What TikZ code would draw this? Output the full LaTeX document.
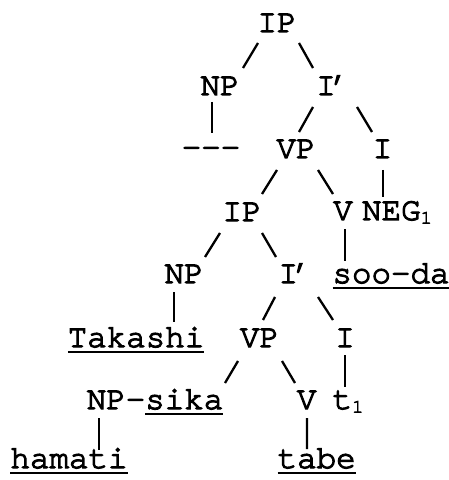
\documentclass[tikz,border=0pt]{standalone}
\usepackage{fontspec}
\newfontfamily\tf{TeX Gyre Cursor}[FakeBold=3.6]
\usetikzlibrary{calc}
\newcommand\myul[1]{\setbox0\hbox{#1}\rlap{\rule[-2.9pt]{\wd0}{1.1pt}}\box0}
\newcommand\subone{{\fontsize{9.5}{9.5}\selectfont\raisebox{-1.8pt}{1}}}
\newcommand\apos{\rlap{\kern-3.5pt’}}
\newcommand\treeline[4]{\draw ($(#1.base)+#2$) -- ($(#3.base)+#4$);}
\begin{document}
\begin{tikzpicture}[x=0.5pt,y=-0.5pt,
  lbl/.style={anchor=base,inner sep=0pt,font=\tf\fontsize{16.25}{18}\selectfont},
  line width=1.15pt]
\useasboundingbox (0,0) rectangle (448,480);
% nodes
\node[lbl] (ip1) at (277,32) {IP};
\node[lbl] (np1) at (220,95) {NP};
\node[lbl] (ib1) at (326,95) {I\apos};
\node[lbl] (dash) at (211,157) {-{}-{}-};
\node[lbl] (vp1) at (296,158) {VP};
\node[lbl] (i1) at (382.5,158) {I};
\node[lbl] (ip2) at (242,221) {IP};
\node[lbl] (v1) at (343,220) {V};
\node[lbl] (neg) at (397,220) {NEG\subone};
\node[lbl] (np2) at (184,283) {NP};
\node[lbl] (ib2) at (288.3,283) {I\apos};
\node[lbl] (soo) at (391,283) {\myul{soo-da}};
\node[lbl] (tak) at (136,347) {\myul{Takashi}};
\node[lbl] (vp2) at (259.5,347) {VP};
\node[lbl] (i2) at (345,347) {I};
\node[lbl] (npsika) at (155,409) {NP-\myul{sika}};
\node[lbl] (v2) at (306.7,409) {V};
\node[lbl] (t1) at (348,409) {t\subone};
\node[lbl] (ham) at (69,468) {\myul{hamati}};
\node[lbl] (tabe) at (316.7,468) {\myul{tabe}};
% connectors
\treeline{ip1}{(-19,11)}{np1}{(23,-27)}
\treeline{ip1}{(22,11)}{ib1}{(-13,-27)}
\treeline{np1}{(-8,7)}{dash}{(1,-24)}
\treeline{ib1}{(-13,12)}{vp1}{(3,-26)}
\treeline{ib1}{(31,12)}{i1}{(-10.5,-26)}
\treeline{vp1}{(-19,12)}{ip2}{(20,-27)}
\treeline{vp1}{(22,12)}{v1}{(-10,-26)}
\treeline{i1}{(0.5,12)}{neg}{(-14,-23)}
\treeline{ip2}{(-22,12)}{np2}{(21,-26)}
\treeline{ip2}{(20,12)}{ib2}{(-12.3,-26)}
\treeline{v1}{(2,9)}{soo}{(-46,-22)}
\treeline{np2}{(-10,9)}{tak}{(38,-25)}
\treeline{ib2}{(-13.3,14)}{vp2}{(3.5,-27)}
\treeline{ib2}{(29.7,14)}{i2}{(-12,-27)}
\treeline{vp2}{(-21.5,14)}{npsika}{(70,-26)}
\treeline{vp2}{(22.5,14)}{v2}{(-11.7,-26)}
\treeline{i2}{(0,8)}{t1}{(-3,-22)}
\treeline{npsika}{(-56,9)}{ham}{(30,-18)}
\treeline{v2}{(0.3,9)}{tabe}{(-9.7,-19)}
\end{tikzpicture}
\end{document}
